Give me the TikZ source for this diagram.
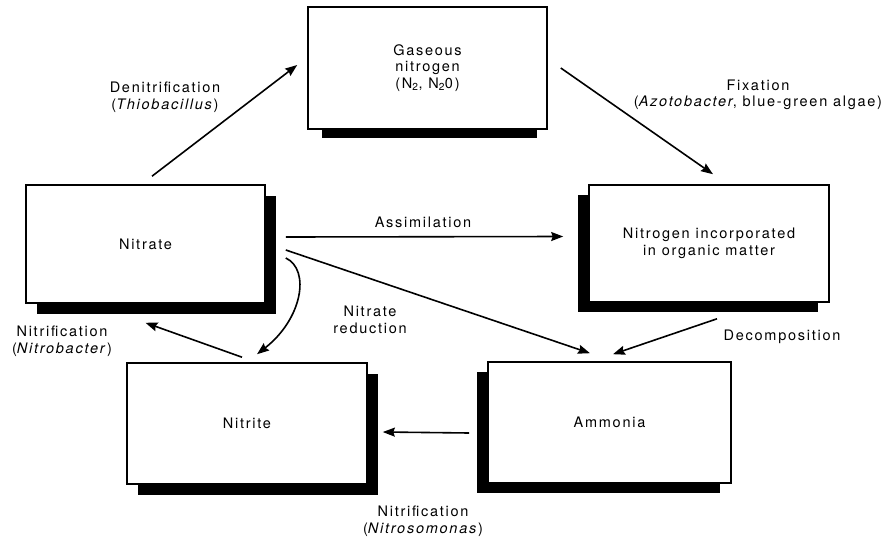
\documentclass[tikz,border=0pt]{standalone}
\usepackage{fontspec}
\setmainfont{TeX Gyre Heros}[LetterSpace=12]
\usetikzlibrary{arrows.meta}
\usetikzlibrary{shadows}

\begin{document}
\begin{tikzpicture}[x=1pt,y=-1pt,
	box/.style={draw=black,fill=white,line width=1.6pt,minimum width=239pt,minimum height=119pt,align=center,inner sep=0pt,font=\fontsize{14.5}{16.5}\selectfont},
	shade right/.style={general shadow={fill=black,shadow xshift=11pt,shadow yshift=-11pt}},
	shade left/.style={general shadow={fill=black,shadow xshift=-11pt,shadow yshift=-10pt}},
	shade below/.style={general shadow={fill=black,shadow scale=0.9,shadow xshift=2pt,shadow yshift=-17pt}},
	arr/.style={line width=1.6pt,-{Stealth[length=12pt,width=9pt,inset=1.5pt]}},
	lbl/.style={align=center,inner sep=0pt,font=\fontsize{14.5}{16.5}\selectfont}]
	\useasboundingbox (0,0) rectangle (891,538);
	% boxes
	\node[box,shade below,minimum height=122pt] (gas) at (427.5,68) {Gaseous\\nitrogen\\(N\textsubscript{2}, N\textsubscript{2}0)};
	\node[box,shade right,minimum height=118pt] (nitrate) at (145.5,244) {Nitrate};
	\node[box,shade left,minimum width=240pt,minimum height=117pt] (organic) at (709,243.5) {Nitrogen incorporated\\in organic matter};
	\node[box,shade right,minimum width=240pt,minimum height=121pt] (nitrite) at (247,423.5) {Nitrite};
	\node[box,shade left,minimum width=243pt,minimum height=121pt] (ammonia) at (609.5,422.5) {Ammonia};
	% connectors
	\draw[arr] ([xshift=6.5pt,yshift=8pt]nitrate.north) -- ([xshift=-10pt,yshift=3pt]gas.west);
	\draw[arr] ([xshift=13pt]gas.east) -- ([xshift=4pt,yshift=10pt]organic.north);
	\draw[arr] ([xshift=20pt,yshift=7pt]nitrate.east) -- ([xshift=-25pt,yshift=7pt]organic.west);
	\draw[arr] ([xshift=20pt,yshift=-6pt]nitrate.east) -- ([xshift=-19.5pt,yshift=8pt]ammonia.north);
	\draw[arr] ([xshift=8pt,yshift=-16pt]organic.south) -- ([xshift=3.5pt,yshift=7pt]ammonia.north);
	\draw[arr] ([xshift=-5pt,yshift=5pt]nitrite.north) -- ([yshift=-19pt]nitrate.south);
	\draw[arr] ([xshift=20pt,yshift=-14pt]nitrate.east) .. controls +(25,12) and +(45,-35) .. ([xshift=10pt,yshift=8pt]nitrite.north);
	\draw[arr] ([xshift=-18pt,yshift=-10.5pt]ammonia.west) -- ([xshift=15pt,yshift=-8.5pt]nitrite.east);
	% labels
	\node[lbl] (denit) at (165,97) {Denitrification\\(\textit{Thiobacillus})};
	\node[lbl] (fix) at (758,95) {Fixation\\(\textit{Azotobacter}, blue-green algae)};
	\node[lbl] (assim) at (423,222) {Assimilation};
	\node[lbl] (reduc) at (370,320) {Nitrate\\reduction};
	\node[lbl] (nitrob) at (62,341) {Nitrification\\(\textit{Nitrobacter})};
	\node[lbl] (decomp) at (782,337) {Decomposition};
	\node[lbl] (nitros) at (423,521) {Nitrification\\(\textit{Nitrosomonas})};
\end{tikzpicture}
\end{document}
